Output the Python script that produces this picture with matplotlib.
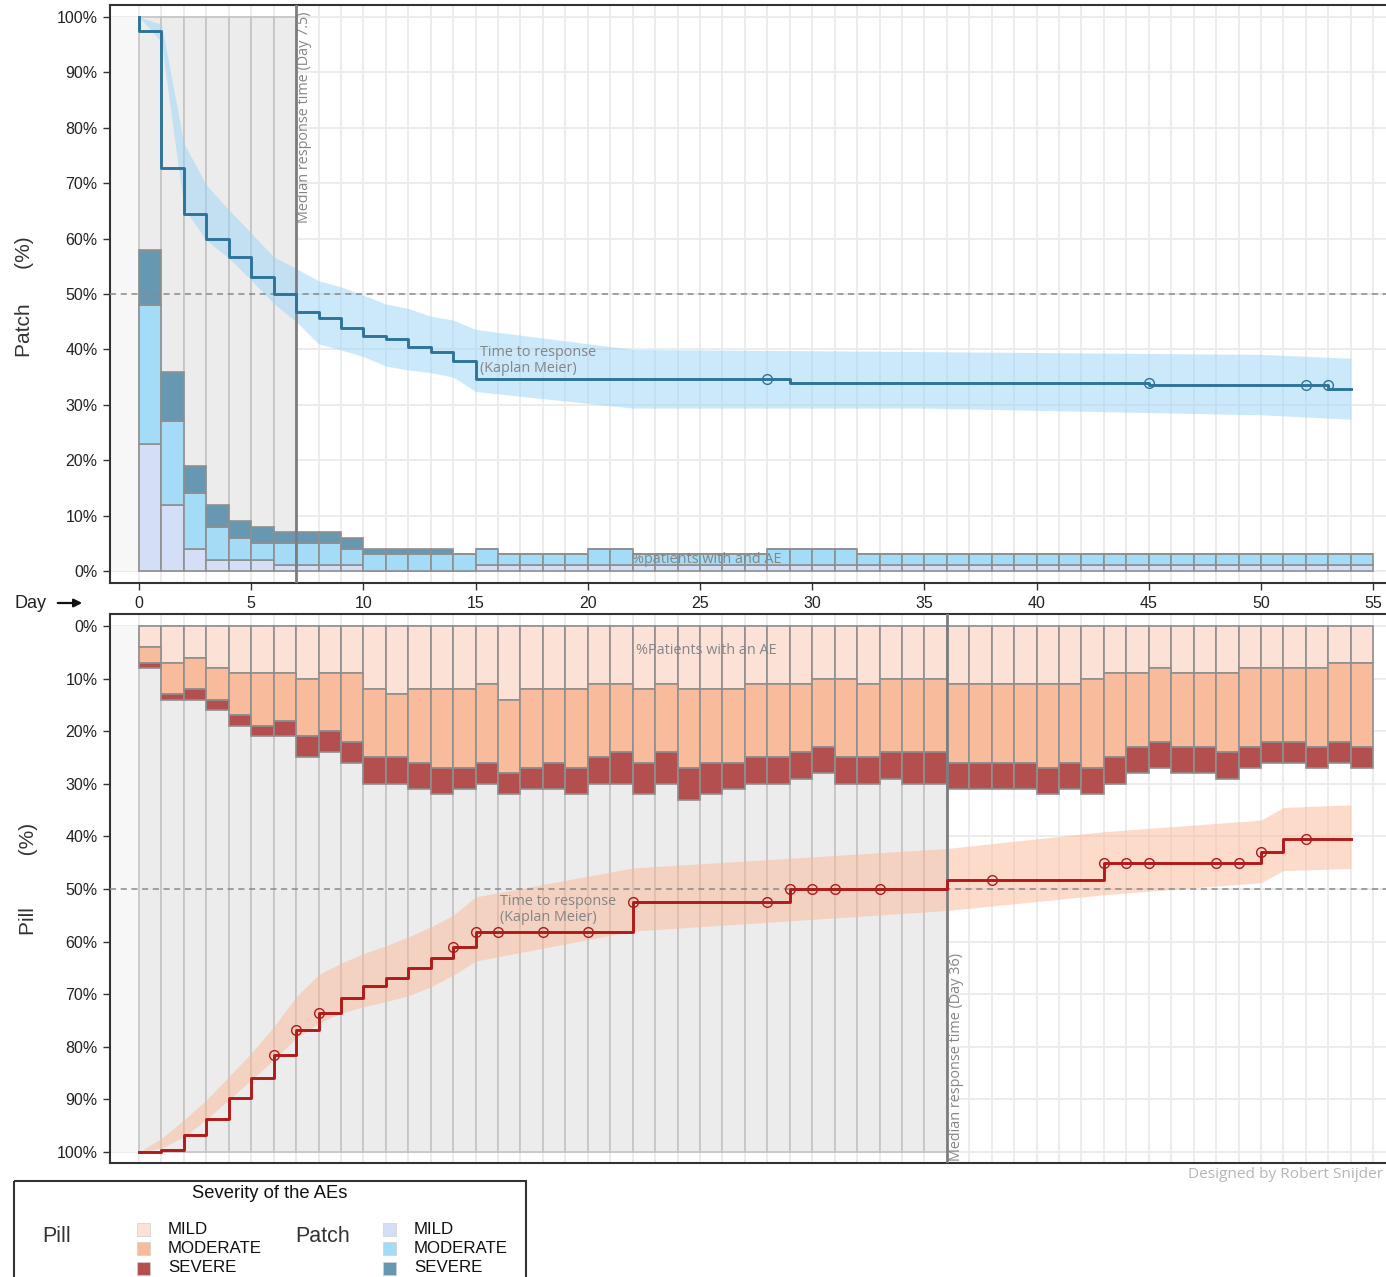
import numpy as np
import matplotlib
matplotlib.use("Agg")
import matplotlib.pyplot as plt
from matplotlib.patches import Rectangle, FancyArrowPatch

plt.rcParams['font.family'] = ['Liberation Sans', 'DejaVu Sans']

# ---------------- data ----------------
days = list(range(55))

# % of patients with an AE per day, by severity (Patch arm)
patch_mild = [23, 12, 4, 2, 2, 2, 1, 1, 1, 1,
              0, 0, 0, 0, 0, 1, 1, 1, 1, 1,
              1, 1, 1, 1, 1, 1, 1, 1, 1, 1,
              1, 1, 1, 1, 1, 1, 1, 1, 1, 1,
              1, 1, 1, 1, 1, 1, 1, 1, 1, 1,
              1, 1, 1, 1, 1]
patch_moderate = [25, 15, 10, 6, 4, 3, 4, 4, 4, 3,
                  3, 3, 3, 3, 3, 3, 2, 2, 2, 2,
                  3, 3, 2, 2, 2, 2, 2, 2, 3, 3,
                  3, 3, 2, 2, 2, 2, 2, 2, 2, 2,
                  2, 2, 2, 2, 2, 2, 2, 2, 2, 2,
                  2, 2, 2, 2, 2]
patch_severe = [10, 9, 5, 4, 3, 3, 2, 2, 2, 2,
                1, 1, 1, 1, 0, 0, 0, 0, 0, 0,
                0, 0, 0, 0, 0, 0, 0, 0, 0, 0,
                0, 0, 0, 0, 0, 0, 0, 0, 0, 0,
                0, 0, 0, 0, 0, 0, 0, 0, 0, 0,
                0, 0, 0, 0, 0]

# % of patients with an AE per day, by severity (Pill arm)
pill_mild = [4, 7, 6, 8, 9, 9, 9, 10, 9, 9,
             12, 13, 12, 12, 12, 11, 14, 12, 12, 12,
             11, 11, 12, 11, 12, 12, 12, 11, 11, 11,
             10, 10, 11, 10, 10, 10, 11, 11, 11, 11,
             11, 11, 10, 9, 9, 8, 9, 9, 9, 8,
             8, 8, 8, 7, 7]
pill_moderate = [3, 6, 6, 6, 8, 10, 9, 11, 11, 13,
                 13, 12, 14, 15, 15, 15, 14, 15, 14, 15,
                 14, 13, 14, 13, 15, 14, 14, 14, 14, 13,
                 13, 15, 14, 14, 14, 14, 15, 15, 15, 15,
                 16, 15, 17, 16, 14, 14, 14, 14, 15, 15,
                 14, 14, 15, 15, 16]
pill_severe = [1, 1, 2, 2, 2, 2, 3, 4, 4, 4,
               5, 5, 5, 5, 4, 4, 4, 4, 5, 5,
               5, 6, 6, 6, 6, 6, 5, 5, 5, 5,
               5, 5, 5, 5, 6, 6, 5, 5, 5, 5,
               5, 5, 5, 5, 5, 5, 5, 5, 5, 4,
               4, 4, 4, 4, 4]

# Kaplan-Meier: % of patients still without response (step after each day)
patch_km_days = [0, 0, 1, 2, 3, 4, 5, 6, 7, 8, 9, 10, 11, 12, 13, 14, 15, 29, 45, 53, 54]
patch_km_pct = [100, 97.4, 72.8, 64.5, 59.9, 56.7, 53.1, 50.0, 46.8, 45.6, 43.9,
                42.5, 41.9, 40.5, 39.6, 37.9, 34.6, 34.0, 33.6, 32.9, 32.9]
patch_censor_days = [28, 45, 52, 53]
patch_ci_days = [0, 1, 2, 3, 4, 5, 6, 7, 8, 9, 10, 11, 12, 13, 14, 15, 22, 35, 50, 54]
patch_ci_upper = [100, 98.7, 77.2, 69.7, 65.2, 61.0, 56.7, 54.6, 52.4, 51.3, 49.8,
                  48.2, 47.4, 46.0, 45.3, 43.6, 40.0, 39.6, 39.1, 38.4]
patch_ci_lower = [100, 95.5, 65.5, 59.7, 56.5, 52.5, 48.3, 45.0, 41.0, 39.9, 38.7,
                  37.0, 36.3, 35.8, 35.0, 32.4, 29.4, 29.4, 28.2, 27.4]
patch_median = 7.5

pill_km_days = [0, 1, 2, 3, 4, 5, 6, 7, 8, 9, 10, 11, 12, 13, 14, 15, 22, 29, 36, 43, 50, 51, 54]
pill_km_pct = [100, 99.6, 96.7, 93.8, 89.8, 85.9, 81.5, 76.9, 73.6, 70.7, 68.4, 67.0,
               65.1, 63.2, 61.1, 58.2, 52.4, 50.0, 48.2, 45.1, 42.9, 40.5, 40.5]
pill_censor_days = [6, 7, 8, 14, 15, 16, 18, 20, 22, 28, 29, 30, 31, 33, 38, 43, 44, 45, 48, 49, 50, 52]
pill_ci_days = [0, 1, 2, 3, 4, 5, 6, 7, 8, 9, 10, 11, 12, 13, 14, 15, 22, 36, 43, 50, 51, 54]
pill_ci_upper = [100, 97.4, 93.9, 90.1, 85.7, 81.2, 76.2, 70.5, 66.3, 64.1, 62.3, 60.8,
                 59.1, 57.2, 55.0, 51.5, 46.0, 42.3, 39.1, 36.9, 34.5, 34.0]
pill_ci_lower = [100, 99.3, 97.1, 93.8, 90.1, 86.3, 82.5, 78.4, 75.5, 73.6, 72.4, 71.4,
                 70.3, 68.6, 66.4, 63.7, 58.0, 54.1, 51.1, 48.8, 46.5, 46.1]
pill_median = 36

severity_labels = ["MILD", "MODERATE", "SEVERE"]
pct_ticks = list(range(0, 101, 10))
day_ticks = list(range(0, 56, 5))

# ---------------- styling ----------------
patch_colors = ['#d4def6', '#a4dbf6', '#6698b2']
pill_colors = ['#fce2d6', '#f8bb9b', '#b34f4f']
patch_line = '#2e7399'
pill_line = '#b01a1a'
patch_band = '#99d5f9'
pill_band = '#fbb999'
text_grey = '#858585'
frame_col = '#333333'

W, H = 1386, 1277
fig = plt.figure(figsize=(W / 100, H / 100), dpi=100)

ax_left, ax_right = 110, 1388
x0_px, px_per_day = 139, 22.44
xlim = (-(x0_px - ax_left) / px_per_day, (ax_right - x0_px) / px_per_day)

ax1 = fig.add_axes([ax_left / W, 1 - 583 / H, (ax_right - ax_left) / W, 578 / H])
ax2 = fig.add_axes([ax_left / W, 1 - 1163 / H, (ax_right - ax_left) / W, 549 / H])


def km_value(t, kd, kp, side):
    idx = np.searchsorted(kd, t, side=side) - 1
    return kp[idx]


def draw_panel(ax, mild, moderate, severe, colors, km_days, km_pct, censor_days, censor_side,
               ci_days, ci_up, ci_lo, median, line_col, band_col):
    ax.set_xlim(*xlim)
    # background grid
    for d in range(0, 56):
        ax.axvline(d, color='#ebebeb', lw=1.3, zorder=0)
    for p in pct_ticks:
        ax.axhline(p, color='#ebebeb', lw=1.3, zorder=0)
    # region before day 0
    ax.add_patch(Rectangle((xlim[0], 0), -xlim[0], 100, facecolor='#f7f7f7',
                           edgecolor='none', zorder=0.5))
    # complete days before the median response time
    shade_days = np.arange(int(np.floor(median)))
    ax.bar(shade_days, 100, width=1, align='edge', color='#ececec',
           edgecolor='#c4c4c4', lw=1.2, zorder=1)
    # stacked AE bars
    mild = np.array(mild)
    moderate = np.array(moderate)
    severe = np.array(severe)
    ax.bar(days, mild, width=1, align='edge', color=colors[0], edgecolor='#8f8f8f', lw=1.2, zorder=2)
    ax.bar(days, moderate, bottom=mild, width=1, align='edge', color=colors[1],
           edgecolor='#8f8f8f', lw=1.2, zorder=2)
    ax.bar(days, severe, bottom=mild + moderate, width=1, align='edge', color=colors[2],
           edgecolor='#8f8f8f', lw=1.2, zorder=2)
    # confidence band, 50% reference and median line
    ax.fill_between(ci_days, ci_lo, ci_up, color=band_col, alpha=0.5, lw=0, zorder=3)
    ax.axhline(50, color='#8a8a8a', lw=1.1, ls=(0, (4, 3)), zorder=3.5)
    ax.axvline(np.floor(median), color='#7d7d7d', lw=2, zorder=4)
    # Kaplan-Meier curve with censoring marks
    ax.step(km_days, km_pct, where='post', color=line_col, lw=2.1, zorder=5)
    cvals = [km_value(t, km_days, km_pct, censor_side) for t in censor_days]
    ax.plot(censor_days, cvals, 'o', mfc='none', mec=line_col, ms=7, mew=1.0, zorder=6)

    ax.set_yticks(pct_ticks)
    ax.set_yticklabels([f"{v}%" for v in pct_ticks], fontsize=11.5, color='#222222')
    ax.set_xticks(day_ticks)
    ax.tick_params(axis='both', length=5, width=1, color=frame_col, pad=4)
    for side in ['left', 'top', 'bottom', 'right']:
        ax.spines[side].set_color(frame_col)
        ax.spines[side].set_linewidth(1.5)


draw_panel(ax1, patch_mild, patch_moderate, patch_severe, patch_colors,
           patch_km_days, patch_km_pct, patch_censor_days, 'left',
           patch_ci_days, patch_ci_upper, patch_ci_lower, patch_median, patch_line, patch_band)
draw_panel(ax2, pill_mild, pill_moderate, pill_severe, pill_colors,
           pill_km_days, pill_km_pct, pill_censor_days, 'right',
           pill_ci_days, pill_ci_upper, pill_ci_lower, pill_median, pill_line, pill_band)

ax1.set_ylim(-(583 - 571) / 5.54, (571 - 5) / 5.54)
ax2.set_ylim((1163 - 626) / 5.26, -(626 - 614) / 5.26)

ax1.set_xticklabels([str(d) for d in day_ticks], fontsize=11.5, color='#222222')
ax2.tick_params(axis='x', length=0, labelbottom=False)

# axis titles
ax1.set_ylabel("Patch      (%)", fontsize=15, color='#333333')
ax1.yaxis.set_label_coords(-(ax_left - 34) / (ax_right - ax_left), 1 - (297 - 5) / 578)
ax2.set_ylabel("Pill         (%)", fontsize=15, color='#333333')
ax2.yaxis.set_label_coords(-(ax_left - 38) / (ax_right - ax_left), 1 - (879 - 614) / 549)

# in-panel annotations
ann = dict(color=text_grey, fontsize=10.4, family=['Open Sans', 'DejaVu Sans'])
ax1.text(7.05, 100.9, f"Median response time (Day {patch_median})", rotation=90,
         ha='left', va='top', zorder=7, **ann)
ax1.text(15.2, 38.0, "Time to response\n(Kaplan Meier)", ha='left', va='center',
         linespacing=1.1, zorder=7, **ann)
ax1.text(21.95, 2.0, "%patients with and AE", ha='left', va='center', zorder=7, **ann)

ax2.text(36.08, 101.8, f"Median response time (Day {pill_median})", rotation=90,
         ha='left', va='bottom', zorder=7, **ann)
ax2.text(16.1, 53.9, "Time to response\n(Kaplan Meier)", ha='left', va='center',
         linespacing=1.1, zorder=7, **ann)
ax2.text(22.15, 4.75, "%Patients with an AE", ha='left', va='center', zorder=7, **ann)

# day axis marker
fig.text(15 / W, 1 - 603 / H, "Day", fontsize=13, ha='left', va='center', color='#222222')
fig.add_artist(FancyArrowPatch((55 / W, 1 - 603 / H), (85 / W, 1 - 603 / H),
                               transform=fig.transFigure, arrowstyle='-|>',
                               mutation_scale=12, lw=1.6, color='#111111'))

fig.text(1188 / W, 1 - 1175 / H, "Designed by Robert Snijder", fontsize=11.05,
         family=['Open Sans', 'DejaVu Sans'], color='#b5b5b5', ha='left', va='center')

# severity legend
lax = fig.add_axes([14 / W, 0, 512 / W, (H - 1181) / H])
lax.set_xlim(0, 512)
lax.set_ylim(H - 1181, 0)
lax.axis('off')
lax.add_patch(Rectangle((0, 0), 512, 130, fill=False, ec=frame_col, lw=1.5, clip_on=False))
lax.text(256, 13, "Severity of the AEs", ha='center', va='center', fontsize=13.2, color='#111111')
for name, gx, sx, cols in [("Pill", 28, 123, pill_colors), ("Patch", 281, 369, patch_colors)]:
    lax.text(gx, 55, name, ha='left', va='center', fontsize=15.5, color='#333333')
    for i, (lab, c) in enumerate(zip(severity_labels, cols)):
        yc = 48 + 19.5 * i
        lax.add_patch(Rectangle((sx, yc - 6.5), 13, 13, facecolor=c, edgecolor='#d0d0d0',
                                lw=0.5, clip_on=False))
        lax.text(sx + 31, yc, lab, ha='left', va='center', fontsize=12.2, color='#111111')

fig.savefig("out.png", dpi=100)
